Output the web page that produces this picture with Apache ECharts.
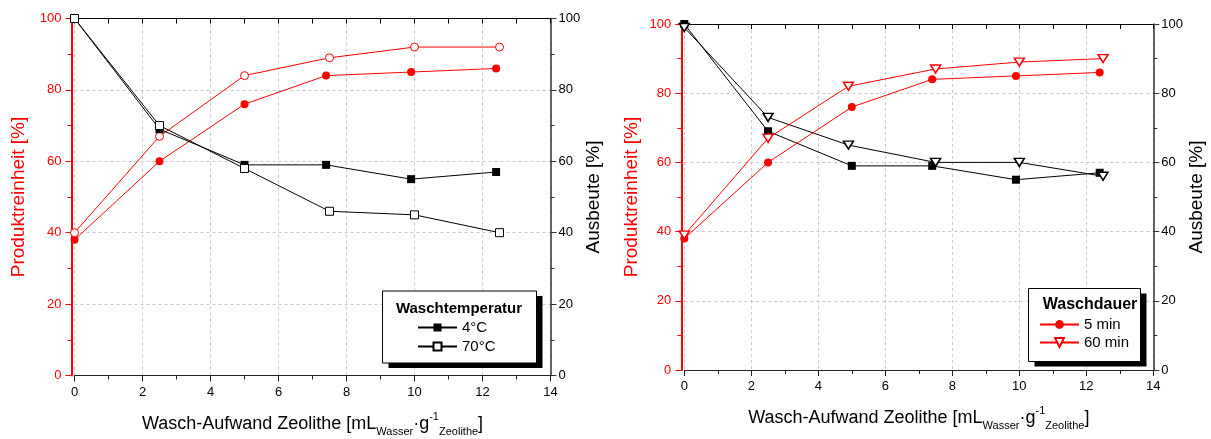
<!DOCTYPE html>
<html>
<head>
<meta charset="utf-8">
<title>Waschversuche Zeolithe</title>
<script src="https://cdn.jsdelivr.net/npm/echarts@6/dist/echarts.min.js"></script>
<style>
html, body { margin: 0; padding: 0; background: #fff; }
#main { width: 1211px; height: 439px; }
</style>
</head>
<body>
<div id="main"></div>
<script>
// x-Werte (Wasch-Aufwand)
var xFilled = [0, 2.5, 5, 7.4, 9.9, 12.4];
var xOpen = [0, 2.5, 5, 7.5, 10, 12.5];
var xTriangle = [0, 2.5, 4.9, 7.5, 10, 12.5];

// linkes Diagramm: Waschtemperatur
var reinheit4C = [38, 60, 76, 84, 85, 86];
var reinheit70C = [40, 67, 84, 89, 92, 92];
var ausbeute4C = [100, 69, 59, 59, 55, 57];
var ausbeute70C = [100, 70, 58, 46, 45, 40];

// rechtes Diagramm: Waschdauer
var reinheit5min = [38, 60, 76, 84, 85, 86];
var reinheit60min = [39, 67, 82, 87, 89, 90];
var ausbeute5min = [100, 69, 59, 59, 55, 57];
var ausbeute60min = [99, 73, 65, 60, 60, 56];

// Achsen: [min, max, interval]
var xRange = [0, 14, 2];
var yRange = [0, 100, 20];

var FONT = '"Liberation Sans", Arial, sans-serif';
var RED = '#ff0000';
var DOWN_TRIANGLE = 'path://M0,0L10,0L5,9Z';

// x/y Paare bauen
function pairs(xs, ys) {
    var result = [];
    for (var i = 0; i < xs.length; i++) {
        result.push([xs[i], ys[i]]);
    }
    return result;
}

// untere x-Achse mit Beschriftung
function bottomAxis(gridIndex, nameGap) {
    return {
        type: 'value',
        gridIndex: gridIndex,
        position: 'bottom',
        min: xRange[0],
        max: xRange[1],
        interval: xRange[2],
        name: '{m|Wasch-Aufwand Zeolithe [mL}{s|Wasser}{m|·g}{p|-1}{s|Zeolithe}{m|]}',
        nameLocation: 'middle',
        nameGap: nameGap,
        nameMoveOverlap: false,
        nameTextStyle: {
            rich: {
                m: { fontSize: 18, lineHeight: 26, verticalAlign: 'middle', color: '#000', fontFamily: FONT },
                s: { fontSize: 11, lineHeight: 11, verticalAlign: 'bottom', color: '#000', fontFamily: FONT },
                p: { fontSize: 11, lineHeight: 11, verticalAlign: 'top', color: '#000', fontFamily: FONT }
            }
        },
        axisLine: { show: true, onZero: false, lineStyle: { color: '#222', width: 1 } },
        axisTick: { show: true, inside: false, length: 6, lineStyle: { color: '#222' } },
        minorTick: { show: true, splitNumber: 2, length: 4, lineStyle: { color: '#222' } },
        axisLabel: { color: '#000', fontSize: 13, margin: 10, fontFamily: FONT },
        splitLine: { show: true, lineStyle: { color: '#c8c8c8', type: [3, 3], width: 1 } }
    };
}

// obere x-Achse nur mit Strichen
function topAxis(gridIndex) {
    return {
        type: 'value',
        gridIndex: gridIndex,
        position: 'top',
        min: xRange[0],
        max: xRange[1],
        interval: 1,
        axisLine: { show: true, onZero: false, lineStyle: { color: '#000', width: 1 } },
        axisTick: { show: true, inside: true, length: 5, lineStyle: { color: '#000' } },
        axisLabel: { show: false },
        splitLine: { show: false }
    };
}

// linke y-Achse (Produktreinheit, rot)
function leftAxis(gridIndex, nameGap) {
    return {
        type: 'value',
        gridIndex: gridIndex,
        position: 'left',
        offset: 3,
        min: yRange[0],
        max: yRange[1],
        interval: yRange[2],
        name: 'Produktreinheit [%]',
        nameLocation: 'middle',
        nameRotate: 90,
        nameGap: nameGap,
        nameTextStyle: { color: RED, fontSize: 19, fontFamily: FONT },
        axisLine: { show: true, onZero: false, lineStyle: { color: RED, width: 2 } },
        axisTick: { show: true, inside: false, length: 6, lineStyle: { color: RED } },
        minorTick: { show: true, splitNumber: 2, length: 4, lineStyle: { color: RED } },
        axisLabel: { color: RED, fontSize: 13, margin: 10, fontFamily: FONT },
        splitLine: { show: true, lineStyle: { color: '#c8c8c8', type: [3, 3], width: 1 } }
    };
}

// rechte y-Achse (Ausbeute, schwarz)
function rightAxis(gridIndex, nameGap) {
    return {
        type: 'value',
        gridIndex: gridIndex,
        position: 'right',
        min: yRange[0],
        max: yRange[1],
        interval: yRange[2],
        name: 'Ausbeute [%]',
        nameLocation: 'middle',
        nameRotate: 90,
        nameGap: nameGap,
        nameTextStyle: { color: '#000', fontSize: 19, fontFamily: FONT },
        axisLine: { show: true, onZero: false, lineStyle: { color: '#333', width: 1.5 } },
        axisTick: { show: true, inside: false, length: 6, lineStyle: { color: '#333' } },
        minorTick: { show: true, splitNumber: 2, length: 4, lineStyle: { color: '#333' } },
        axisLabel: { color: '#000', fontSize: 13, margin: 8, fontFamily: FONT },
        splitLine: { show: false }
    };
}

// eine Messreihe als Linie mit Symbolen
function lineSeries(name, xIndex, yIndex, data, color, symbol, size, filled, borderWidth) {
    return {
        type: 'line',
        name: name,
        xAxisIndex: xIndex,
        yAxisIndex: yIndex,
        data: data,
        symbol: symbol,
        symbolSize: size,
        showAllSymbol: true,
        animation: false,
        lineStyle: { color: color, width: 1 },
        itemStyle: {
            color: filled ? color : '#fff',
            borderColor: color,
            borderWidth: borderWidth
        },
        emphasis: { disabled: true }
    };
}

// Legendenkasten mit Schatten und Titel
function legendBox(x, y, w, h, dx, dy, title, titleX, titleY, titleSize) {
    return [{
        type: 'rect',
        z: 3,
        shape: { x: x + dx, y: y + dy, width: w, height: h },
        style: { fill: '#000' }
    }, {
        type: 'rect',
        z: 3,
        shape: { x: x, y: y, width: w, height: h },
        style: { fill: '#fff', stroke: '#000', lineWidth: 1 }
    }, {
        type: 'text',
        z: 6,
        x: titleX,
        y: titleY,
        style: {
            text: title,
            fill: '#000',
            font: 'bold ' + titleSize + 'px ' + FONT,
            align: 'center',
            verticalAlign: 'middle'
        }
    }];
}

function initChart() {
    var myChart = echarts.init(document.getElementById('main'));
    var graphics = legendBox(382.5, 291, 154, 72, 6, 5, 'Waschtemperatur', 459, 309, 15)
        .concat(legendBox(1028.5, 288.5, 112, 73, 6, 5, 'Waschdauer', 1090, 305, 16));
    var legendText = { color: '#000', fontSize: 15, fontFamily: FONT };
    var option = {
        animation: false,
        textStyle: { fontFamily: FONT },
        grid: [
            { left: 74.5, top: 18.5, width: 476, height: 357, outerBoundsMode: 'none', containLabel: false },
            { left: 684.3, top: 24, width: 469, height: 346, outerBoundsMode: 'none', containLabel: false }
        ],
        xAxis: [bottomAxis(0, 36), topAxis(0), bottomAxis(1, 35), topAxis(1)],
        yAxis: [leftAxis(0, 43), rightAxis(0, 31), leftAxis(1, 40), rightAxis(1, 31)],
        legend: [{
            orient: 'vertical',
            left: 417,
            top: 320,
            padding: 0,
            itemWidth: 39,
            itemHeight: 10,
            itemGap: 4,
            selectedMode: false,
            textStyle: legendText,
            data: ['4°C', '70°C']
        }, {
            orient: 'vertical',
            left: 1039,
            top: 317,
            padding: 0,
            itemWidth: 39,
            itemHeight: 11,
            itemGap: 3,
            selectedMode: false,
            textStyle: legendText,
            data: ['5 min', '60 min']
        }],
        graphic: graphics,
        series: [
            // links
            lineSeries('Reinheit 4°C', 0, 0, pairs(xFilled, reinheit4C), RED, 'circle', 8, true, 0),
            lineSeries('Reinheit 70°C', 0, 0, pairs(xOpen, reinheit70C), RED, 'circle', 8, false, 1),
            lineSeries('4°C', 0, 1, pairs(xFilled, ausbeute4C), '#000', 'rect', 8, true, 0),
            lineSeries('70°C', 0, 1, pairs(xOpen, ausbeute70C), '#000', 'rect', 8, false, 1),
            // rechts
            lineSeries('Ausbeute 5 min', 2, 3, pairs(xFilled, ausbeute5min), '#000', 'rect', 8, true, 0),
            lineSeries('Ausbeute 60 min', 2, 3, pairs(xTriangle, ausbeute60min), '#000', DOWN_TRIANGLE, [10, 8], false, 1.5),
            lineSeries('5 min', 2, 2, pairs(xFilled, reinheit5min), RED, 'circle', 8, true, 0),
            lineSeries('60 min', 2, 2, pairs(xTriangle, reinheit60min), RED, DOWN_TRIANGLE, [10, 8], false, 1.5)
        ]
    };
    myChart.setOption(option);
}

initChart();
</script>
</body>
</html>
